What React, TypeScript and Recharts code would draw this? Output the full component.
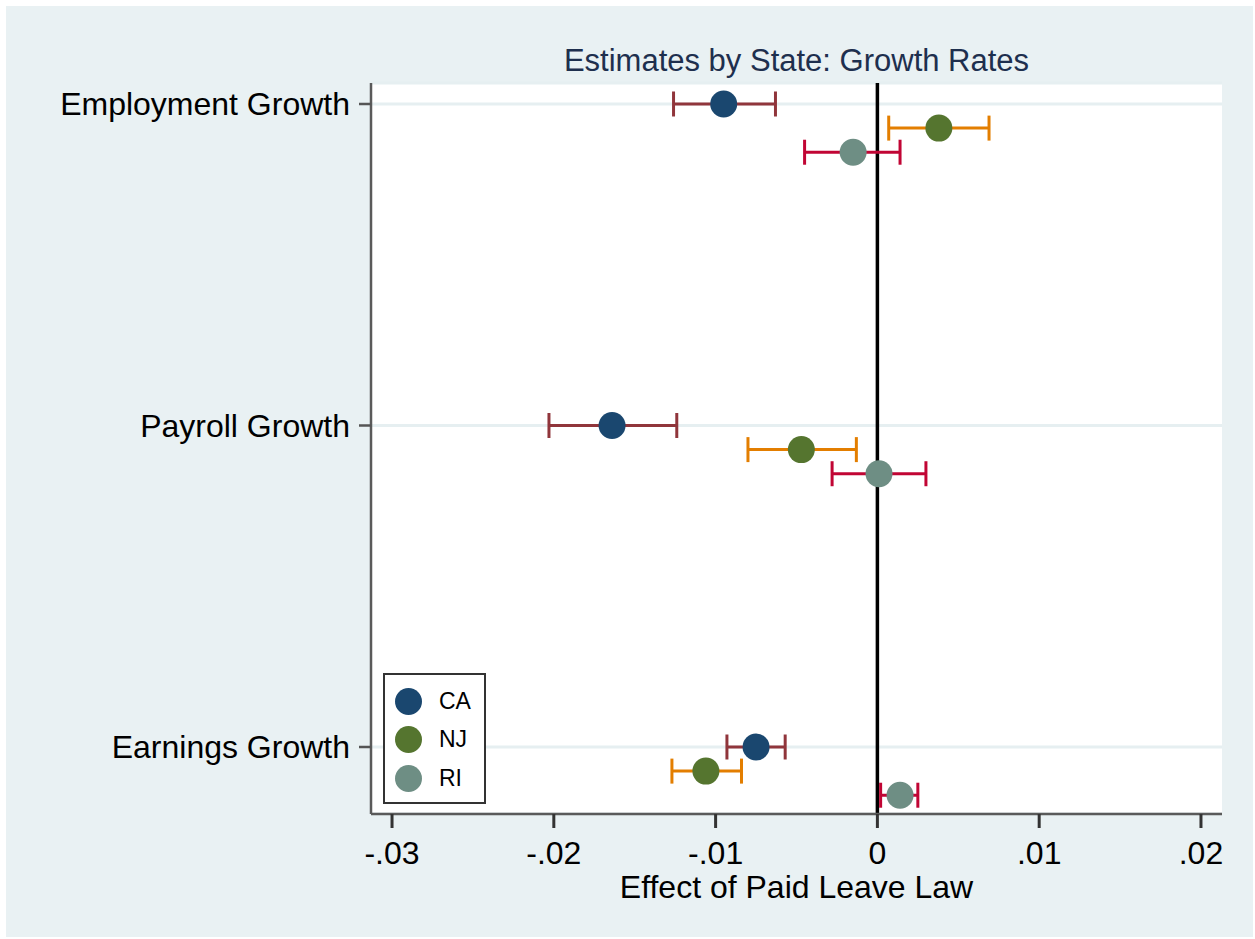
import React from 'react';
import {
  ScatterChart,
  Scatter,
  XAxis,
  YAxis,
  CartesianGrid,
  ReferenceLine,
  ErrorBar,
  Legend,
  Label,
} from 'recharts';

// ---- Data ----
const categories = ['Employment Growth', 'Payroll Growth', 'Earnings Growth'];
const states = ['CA', 'NJ', 'RI'];

const caEst = [-0.0095, -0.0164, -0.0075];
const caLo = [-0.0126, -0.0203, -0.0093];
const caHi = [-0.0063, -0.0124, -0.0057];

const njEst = [0.0038, -0.0047, -0.0106];
const njLo = [0.0007, -0.008, -0.0127];
const njHi = [0.0069, -0.0013, -0.0084];

const riEst = [-0.0015, 0.0001, 0.0014];
const riLo = [-0.0045, -0.0028, 0.0002];
const riHi = [0.0014, 0.003, 0.0025];

const xTicks = [-0.03, -0.02, -0.01, 0, 0.01, 0.02];

// ---- Styling ----
const FONT = '"Liberation Sans", Arial, Helvetica, sans-serif';
const dotColors = ['#1a476f', '#55752f', '#6e8e84'];
const ciColors = ['#90353b', '#e37e00', '#c10534'];
const stateOffsets = [0, 0.075, 0.15];

const catPos = (i: number) => categories.length - i;

function buildSeries(est: number[], lo: number[], hi: number[], offset: number) {
  return est.map((e, i) => ({
    x: e,
    y: catPos(i) - offset,
    err: [e - lo[i], hi[i] - e],
  }));
}

const seriesData = [
  buildSeries(caEst, caLo, caHi, stateOffsets[0]),
  buildSeries(njEst, njLo, njHi, stateOffsets[1]),
  buildSeries(riEst, riLo, riHi, stateOffsets[2]),
];

const fmtX = (v: number) => {
  if (Math.abs(v) < 1e-12) return '0';
  const s = Math.abs(v).toFixed(2).replace(/^0/, '');
  return v < 0 ? '-' + s : s;
};

const fmtY = (v: number) => {
  const idx = categories.length - Math.round(v);
  return categories[idx] ?? '';
};

const LegendBox = () => (
  <div
    style={{
      width: 99,
      height: 127,
      border: '2px solid #333',
      background: '#fff',
      fontFamily: FONT,
      fontSize: 23,
      color: '#000',
      position: 'relative',
      boxSizing: 'content-box',
    }}
  >
    {states.map((s, i) => (
      <div
        key={s}
        style={{
          position: 'absolute',
          left: 10,
          top: 12 + i * 38.5,
          height: 28,
          display: 'flex',
          alignItems: 'center',
        }}
      >
        <span
          style={{
            display: 'inline-block',
            width: 27,
            height: 27,
            borderRadius: '50%',
            background: dotColors[i],
          }}
        />
        <span style={{ marginLeft: 17 }}>{s}</span>
      </div>
    ))}
  </div>
);

const XLabel = (props: any) => {
  const vb = props.viewBox || {};
  return (
    <text
      x={vb.x + vb.width / 2}
      y={vb.y + 84}
      textAnchor="middle"
      fontFamily={FONT}
      fontSize={32}
      fill="#000"
    >
      Effect of Paid Leave Law
    </text>
  );
};

export default function App() {
  return (
    <div
      style={{
        position: 'absolute',
        left: 0,
        top: 0,
        width: 1255,
        height: 939,
        background: '#fff',
      }}
    >
      <div
        style={{
          position: 'absolute',
          left: 6,
          top: 6,
          width: 1247,
          height: 931,
          background: '#e9f1f3',
        }}
      />
      <div style={{ position: 'absolute', left: 0, top: 0 }}>
        <ScatterChart
          width={1255}
          height={939}
          margin={{ top: 83, right: 33, bottom: 0, left: 0 }}
        >
          <CartesianGrid
            vertical={false}
            stroke="#e6eff1"
            strokeWidth={3}
            fill="#ffffff"
          />
          <XAxis
            type="number"
            dataKey="x"
            domain={[-0.0313, 0.0213]}
            ticks={xTicks}
            tickFormatter={fmtX}
            allowDataOverflow
            height={125}
            tickSize={14}
            tickMargin={13}
            stroke="#5a5a5a"
            strokeWidth={2.5}
            tickLine={{ stroke: '#333', strokeWidth: 3 }}
            tick={{ fontFamily: FONT, fontSize: 32, fill: '#000' }}
          >
            <Label content={<XLabel />} />
          </XAxis>
          <YAxis
            type="number"
            dataKey="y"
            domain={[0.7916, 3.0653]}
            ticks={[1, 2, 3]}
            tickFormatter={fmtY}
            allowDataOverflow
            width={371}
            tickSize={12}
            tickMargin={9}
            stroke="#5a5a5a"
            strokeWidth={2.5}
            tickLine={{ stroke: '#555', strokeWidth: 2.5 }}
            tick={{ fontFamily: FONT, fontSize: 32, fill: '#000' }}
          />
          <ReferenceLine x={0} stroke="#000" strokeWidth={3.5} />
          {seriesData.map((d, i) => (
            <Scatter
              key={states[i]}
              name={states[i]}
              data={d}
              fill={dotColors[i]}
              isAnimationActive={false}
              shape={(p: any) => (
                <circle cx={p.cx} cy={p.cy} r={13.5} fill={dotColors[i]} />
              )}
            >
              <ErrorBar
                dataKey="err"
                direction="x"
                width={12.5}
                strokeWidth={3}
                stroke={ciColors[i]}
                isAnimationActive={false}
              />
            </Scatter>
          ))}
          <Legend
            layout="horizontal"
            verticalAlign="middle"
            align="center"
            content={<LegendBox />}
            wrapperStyle={{ position: 'absolute', left: 383, top: 673, width: 'auto', height: 'auto' }}
          />
        </ScatterChart>
      </div>
      <svg
        width={1255}
        height={120}
        style={{ position: 'absolute', left: 0, top: 0, pointerEvents: 'none' }}
      >
        <text
          x={796.5}
          y={71}
          textAnchor="middle"
          fontFamily={FONT}
          fontSize={31}
          fill="#1e2f4e"
        >
          Estimates by State: Growth Rates
        </text>
      </svg>
    </div>
  );
}
